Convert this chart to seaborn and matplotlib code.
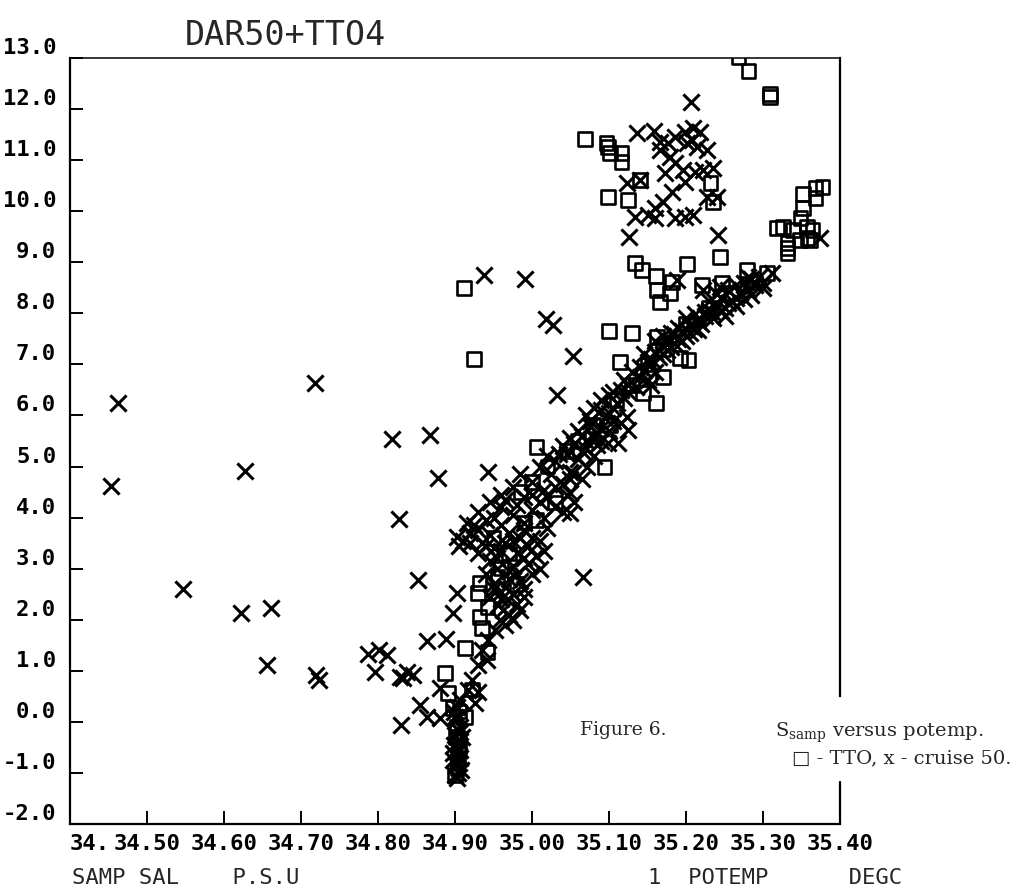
import matplotlib
matplotlib.use('Agg')
import matplotlib.pyplot as plt
import seaborn as sns

# TTO samples (squares): (sample salinity, potential temperature)
tto_upper = [(35.268, 13.02), (35.281, 12.75), (35.309, 12.30), (35.309, 12.24),
             (35.069, 11.41), (35.097, 11.34), (35.099, 11.26), (35.101, 11.14),
             (35.116, 11.14), (35.116, 10.96), (35.140, 10.61), (35.099, 10.28),
             (35.125, 10.22), (35.232, 10.55), (35.235, 10.18),
             (35.377, 10.47), (35.368, 10.45), (35.368, 10.26), (35.352, 10.34),
             (35.352, 10.06), (35.349, 9.87), (35.318, 9.67), (35.326, 9.69),
             (35.339, 9.63), (35.357, 9.69), (35.364, 9.63), (35.358, 9.48),
             (35.332, 9.38), (35.332, 9.28), (35.332, 9.18), (35.361, 9.44),
             (35.348, 9.44)]
tto_band = [(35.134, 8.99), (35.143, 8.85), (35.161, 8.73), (35.162, 8.46),
            (35.179, 8.40), (35.182, 8.61), (35.166, 8.22), (35.201, 8.97),
            (35.244, 9.10), (35.221, 8.56), (35.247, 8.59), (35.279, 8.85),
            (35.305, 8.79), (34.912, 8.50), (34.925, 7.11), (35.100, 7.65),
            (35.130, 7.62), (35.162, 7.54), (35.006, 5.38), (35.094, 4.99),
            (35.144, 6.44), (35.161, 6.24), (35.170, 6.75), (35.114, 7.05),
            (35.079, 5.81), (35.101, 5.81), (35.192, 7.13), (35.203, 7.09),
            (35.110, 6.30), (35.130, 6.60), (35.150, 7.00), (35.170, 7.30),
            (35.200, 7.80), (35.230, 8.10), (35.260, 8.40), (35.290, 8.60)]
tto_lower = [(34.932, 2.72), (34.930, 2.52), (34.942, 2.25), (34.932, 2.05),
             (34.935, 1.84), (34.913, 1.45), (34.942, 1.37), (34.887, 0.96),
             (34.891, 0.57), (34.922, 0.63), (34.897, 0.27), (34.913, 0.10),
             (34.900, -1.05), (34.903, -0.90), (34.905, -0.50), (34.902, -0.10),
             (34.906, 0.20), (34.904, -0.70), (34.901, -0.30),
             (34.970, 3.30), (34.990, 3.90), (35.005, 3.95), (34.985, 4.50),
             (35.000, 4.70), (35.020, 5.00), (34.960, 3.00), (34.955, 2.85),
             (35.045, 5.30), (35.060, 5.50), (35.030, 4.30), (34.950, 3.60),
             (34.980, 2.70)]

# cruise 50 samples (crosses)
c50_outliers = [(34.453, 4.62), (34.462, 6.25), (34.547, 2.60), (34.622, 2.13),
                (34.627, 4.91), (34.656, 1.11), (34.661, 2.23), (34.718, 6.64),
                (34.719, 0.92), (34.723, 0.82), (34.787, 1.33), (34.801, 1.41),
                (34.812, 1.31), (34.796, 0.98), (34.818, 5.54), (34.827, 3.97),
                (34.829, 0.88), (34.832, 0.86), (34.838, 0.98), (34.845, 0.92),
                (34.830, -0.06), (34.852, 2.78), (34.855, 0.33), (34.864, 0.10),
                (34.864, 1.58), (34.868, 5.62), (34.878, 4.78), (34.881, 0.66),
                (34.881, 0.08), (34.888, 1.62), (34.897, 2.13), (34.903, 2.52),
                (34.938, 8.75), (34.991, 8.67), (35.018, 7.89), (35.027, 7.77),
                (35.053, 7.17), (35.032, 6.40), (34.943, 4.89), (35.066, 2.84),
                (34.942, 1.21), (34.930, 0.59), (34.926, 0.37)]
c50_loop = [(35.206, 12.14), (35.136, 11.53), (35.158, 11.57), (35.166, 11.36),
            (35.177, 11.34), (35.186, 11.45), (35.199, 11.55), (35.209, 11.63),
            (35.218, 11.55), (35.208, 11.39), (35.201, 11.34), (35.214, 11.26),
            (35.227, 11.20), (35.166, 11.20), (35.179, 11.06), (35.186, 10.94),
            (35.196, 10.81), (35.212, 10.77), (35.222, 10.81), (35.235, 10.85),
            (35.173, 10.75), (35.199, 10.57), (35.182, 10.38), (35.170, 10.18),
            (35.160, 10.06), (35.151, 9.93), (35.134, 9.89), (35.160, 9.87),
            (35.186, 9.87), (35.209, 9.93), (35.199, 9.89), (35.123, 10.55),
            (35.140, 10.61), (35.227, 10.28), (35.240, 10.28), (35.126, 9.50),
            (35.242, 9.53), (35.374, 9.48)]
c50_band = [(35.188, 8.65), (35.222, 8.46), (35.244, 8.52), (35.312, 8.79),
            (35.281, 8.71), (35.084, 5.42), (35.099, 5.46), (35.112, 5.46),
            (35.071, 4.99), (35.053, 4.87), (35.049, 4.48), (35.049, 4.09),
            (35.123, 5.97), (35.125, 5.72), (34.903, 3.62),
            (34.945, 2.45), (34.960, 2.55), (34.975, 2.50), (34.990, 2.60),
            (34.950, 2.70), (34.970, 2.80), (34.985, 2.75), (35.000, 2.90),
            (34.940, 2.90), (34.955, 3.00), (34.975, 3.05), (34.995, 3.10),
            (35.010, 3.00),
            (34.910, 3.55), (34.920, 3.70), (34.905, 3.45), (34.930, 3.30),
            (34.935, 3.50), (34.925, 3.85), (34.945, 3.65), (34.950, 3.40),
            (34.955, 3.20), (34.965, 3.50), (34.970, 3.70), (34.980, 3.30),
            (34.985, 3.60), (34.995, 3.45), (35.005, 3.25), (35.010, 3.55),
            (35.020, 3.80), (34.940, 3.95), (34.915, 3.90),
            (34.930, 4.10), (34.950, 4.00), (34.960, 4.20), (34.975, 4.05),
            (34.990, 3.90), (35.000, 4.15), (35.015, 4.00), (35.030, 4.20),
            (35.040, 4.10), (35.055, 4.30), (34.945, 4.30),
            (34.960, 4.45), (34.975, 4.60), (34.990, 4.40), (35.000, 4.70),
            (35.015, 4.55), (35.025, 4.85), (35.040, 4.65), (35.050, 4.90),
            (35.065, 4.75), (34.985, 4.85), (35.010, 5.00),
            (35.030, 5.10), (35.045, 5.25), (35.060, 5.15), (35.070, 5.35),
            (35.080, 5.20), (35.090, 5.50), (35.055, 5.45), (35.040, 5.40),
            (35.065, 5.60), (35.075, 5.80), (35.085, 5.65), (35.095, 5.95),
            (35.070, 6.00), (35.080, 6.15), (35.090, 6.10), (35.100, 6.05),
            (35.110, 6.25), (35.105, 6.45), (35.120, 6.35), (35.115, 5.85),
            (35.100, 5.70),
            (35.125, 6.60), (35.140, 6.75), (35.150, 6.70), (35.145, 6.90),
            (35.160, 6.85), (35.155, 7.00),
            (35.155, 7.10), (35.160, 7.25), (35.170, 7.20), (35.175, 7.40),
            (35.180, 7.35), (35.190, 7.50), (35.185, 7.60), (35.195, 7.65),
            (35.200, 7.55), (35.205, 7.75), (35.210, 7.70), (35.215, 7.85),
            (35.220, 7.80), (35.225, 7.95), (35.170, 7.55),
            (35.230, 8.05), (35.235, 8.00), (35.240, 8.15), (35.250, 8.10),
            (35.260, 8.25), (35.265, 8.30), (35.270, 8.40), (35.280, 8.45),
            (35.290, 8.55), (35.300, 8.60), (35.245, 8.30), (35.230, 8.25)]
c50_dense = [(35.150, 7.05), (35.165, 7.15), (35.175, 7.28), (35.185, 7.42),
             (35.195, 7.45), (35.180, 7.62), (35.190, 7.72), (35.205, 7.62),
             (35.215, 7.68), (35.200, 7.90), (35.212, 7.98), (35.225, 8.02),
             (35.235, 7.90), (35.245, 8.05), (35.255, 8.20), (35.240, 8.38),
             (35.255, 8.45), (35.265, 8.55), (35.275, 8.60), (35.285, 8.68),
             (35.295, 8.72), (35.300, 8.50), (35.285, 8.35), (35.275, 8.28),
             (35.265, 8.15), (35.250, 7.95), (35.160, 7.45), (35.145, 7.20),
             (35.105, 6.15), (35.115, 6.50), (35.125, 6.45), (35.135, 6.55),
             (35.130, 6.85), (35.140, 6.95), (35.155, 6.60), (35.090, 6.30),
             (35.100, 6.40), (35.120, 6.70),
             (35.060, 5.70), (35.070, 5.50), (35.080, 5.55), (35.090, 5.75),
             (35.105, 5.90), (35.075, 5.90), (35.050, 5.55), (35.035, 5.25),
             (35.020, 5.20), (35.065, 5.30),
             (35.000, 4.45), (35.020, 4.40), (35.030, 4.60), (35.045, 4.45),
             (35.050, 4.75), (34.980, 4.25), (35.010, 4.30), (34.965, 4.35),
             (34.920, 3.50), (34.930, 3.75), (34.940, 3.45), (34.960, 3.35),
             (34.975, 3.55), (34.990, 3.75), (35.000, 3.60), (34.960, 3.85),
             (34.945, 3.15), (34.990, 3.20), (35.015, 3.35),
             (34.950, 2.60), (34.965, 2.65), (34.980, 2.90), (34.990, 2.45),
             (34.985, 2.20), (34.960, 2.40), (34.970, 2.95)]
c50_lower = [(34.900, -1.05), (34.904, -1.00), (34.901, -0.85), (34.906, -0.70),
             (34.902, -0.55), (34.905, -0.40), (34.900, -0.25), (34.907, -0.10),
             (34.903, 0.05), (34.899, 0.20), (34.908, -0.95), (34.898, -0.60),
             (34.909, -0.30), (34.903, -1.10), (34.905, -0.80), (34.899, -0.45),
             (34.904, -0.15), (34.900, 0.10), (34.906, -0.20), (34.898, -0.75),
             (34.907, -0.55), (34.902, 0.30),
             (34.906, 0.43), (34.917, 0.63), (34.922, 0.82),
             (34.930, 1.11), (34.935, 1.41), (34.943, 1.60), (34.952, 1.80),
             (34.958, 1.99), (34.962, 2.19), (34.969, 2.39), (34.956, 2.29),
             (34.970, 2.10), (34.980, 2.30), (34.965, 1.90), (34.975, 2.00)]

x_ticks = [34.40, 34.50, 34.60, 34.70, 34.80, 34.90, 35.00, 35.10, 35.20, 35.30, 35.40]
x_labels = ['34.', '34.50', '34.60', '34.70', '34.80', '34.90',
            '35.00', '35.10', '35.20', '35.30', '35.40']
y_ticks = list(range(-2, 14))
y_labels = [f'{v:.1f}' for v in y_ticks]

tto = tto_upper + tto_band + tto_lower
c50 = c50_outliers + c50_loop + c50_band + c50_dense + c50_lower
tto_sal, tto_temp = zip(*tto)
c50_sal, c50_temp = zip(*c50)

sns.set_style('ticks')
plt.rcParams['font.family'] = ['DejaVu Sans Mono', 'DejaVu Sans']
plt.rcParams['mathtext.fontset'] = 'dejavuserif'

fig = plt.figure(figsize=(10.22, 8.89), dpi=100)
ax = fig.add_axes([70 / 1022, 65 / 889, 770 / 1022, 766 / 889])

sns.scatterplot(x=list(tto_sal), y=list(tto_temp), marker='s', s=95,
                facecolor='none', edgecolor='black', linewidth=1.9, ax=ax, zorder=3)
sns.scatterplot(x=list(c50_sal), y=list(c50_temp), marker='x', s=135,
                color='black', linewidth=2.2, ax=ax, zorder=4)

ax.set_xlim(34.40, 35.40)
ax.set_ylim(-2, 13)
ax.set_xticks(x_ticks)
ax.set_xticklabels(x_labels)
ax.set_yticks(y_ticks)
ax.set_yticklabels(y_labels)
ax.tick_params(direction='in', length=9.5, width=1.4, colors='black', labelsize=16)
ax.tick_params(axis='x', pad=7)
ax.tick_params(axis='y', pad=10)
plt.setp(ax.get_xticklabels(), fontweight='bold')
plt.setp(ax.get_yticklabels(), fontweight='bold', va='bottom')
ax.get_xticklabels()[0].set_ha('left')
ax.set_xlabel('')
ax.set_ylabel('')

for side in ['left', 'bottom', 'right']:
    ax.spines[side].set_linewidth(1.6)
    ax.spines[side].set_color('black')
ax.spines['top'].set_linewidth(1.1)
ax.spines['top'].set_color('black')
# right frame line is broken where the caption sits
ax.spines['right'].set_bounds(0.5, 13)
ax.axvline(35.40, 0, 0.055, color='black', lw=1.6, clip_on=False)

fig.text(185 / 1022, 1 - 45 / 889, 'DAR50+TTO4', fontsize=24, va='baseline')
fig.text(72 / 1022, 1 - 884 / 889, 'SAMP SAL    P.S.U', fontsize=16, va='baseline')
fig.text(648 / 1022, 1 - 884 / 889, '1  POTEMP      DEGC', fontsize=16, va='baseline')

fig.text(580 / 1022, 1 - 735 / 889, 'Figure 6.', family='DejaVu Serif',
         fontsize=13.5, va='baseline')
fig.text(775 / 1022, 1 - 737 / 889, r'S$_{\mathrm{samp}}$ versus potemp.',
         family='DejaVu Serif', fontsize=14, va='baseline')
fig.text(792 / 1022, 1 - 763 / 889, '\u25a1 - TTO, x - cruise 50.',
         family=['DejaVu Serif', 'DejaVu Sans'], fontsize=14, va='baseline')

fig.savefig('out.png', dpi=100, facecolor='white')
